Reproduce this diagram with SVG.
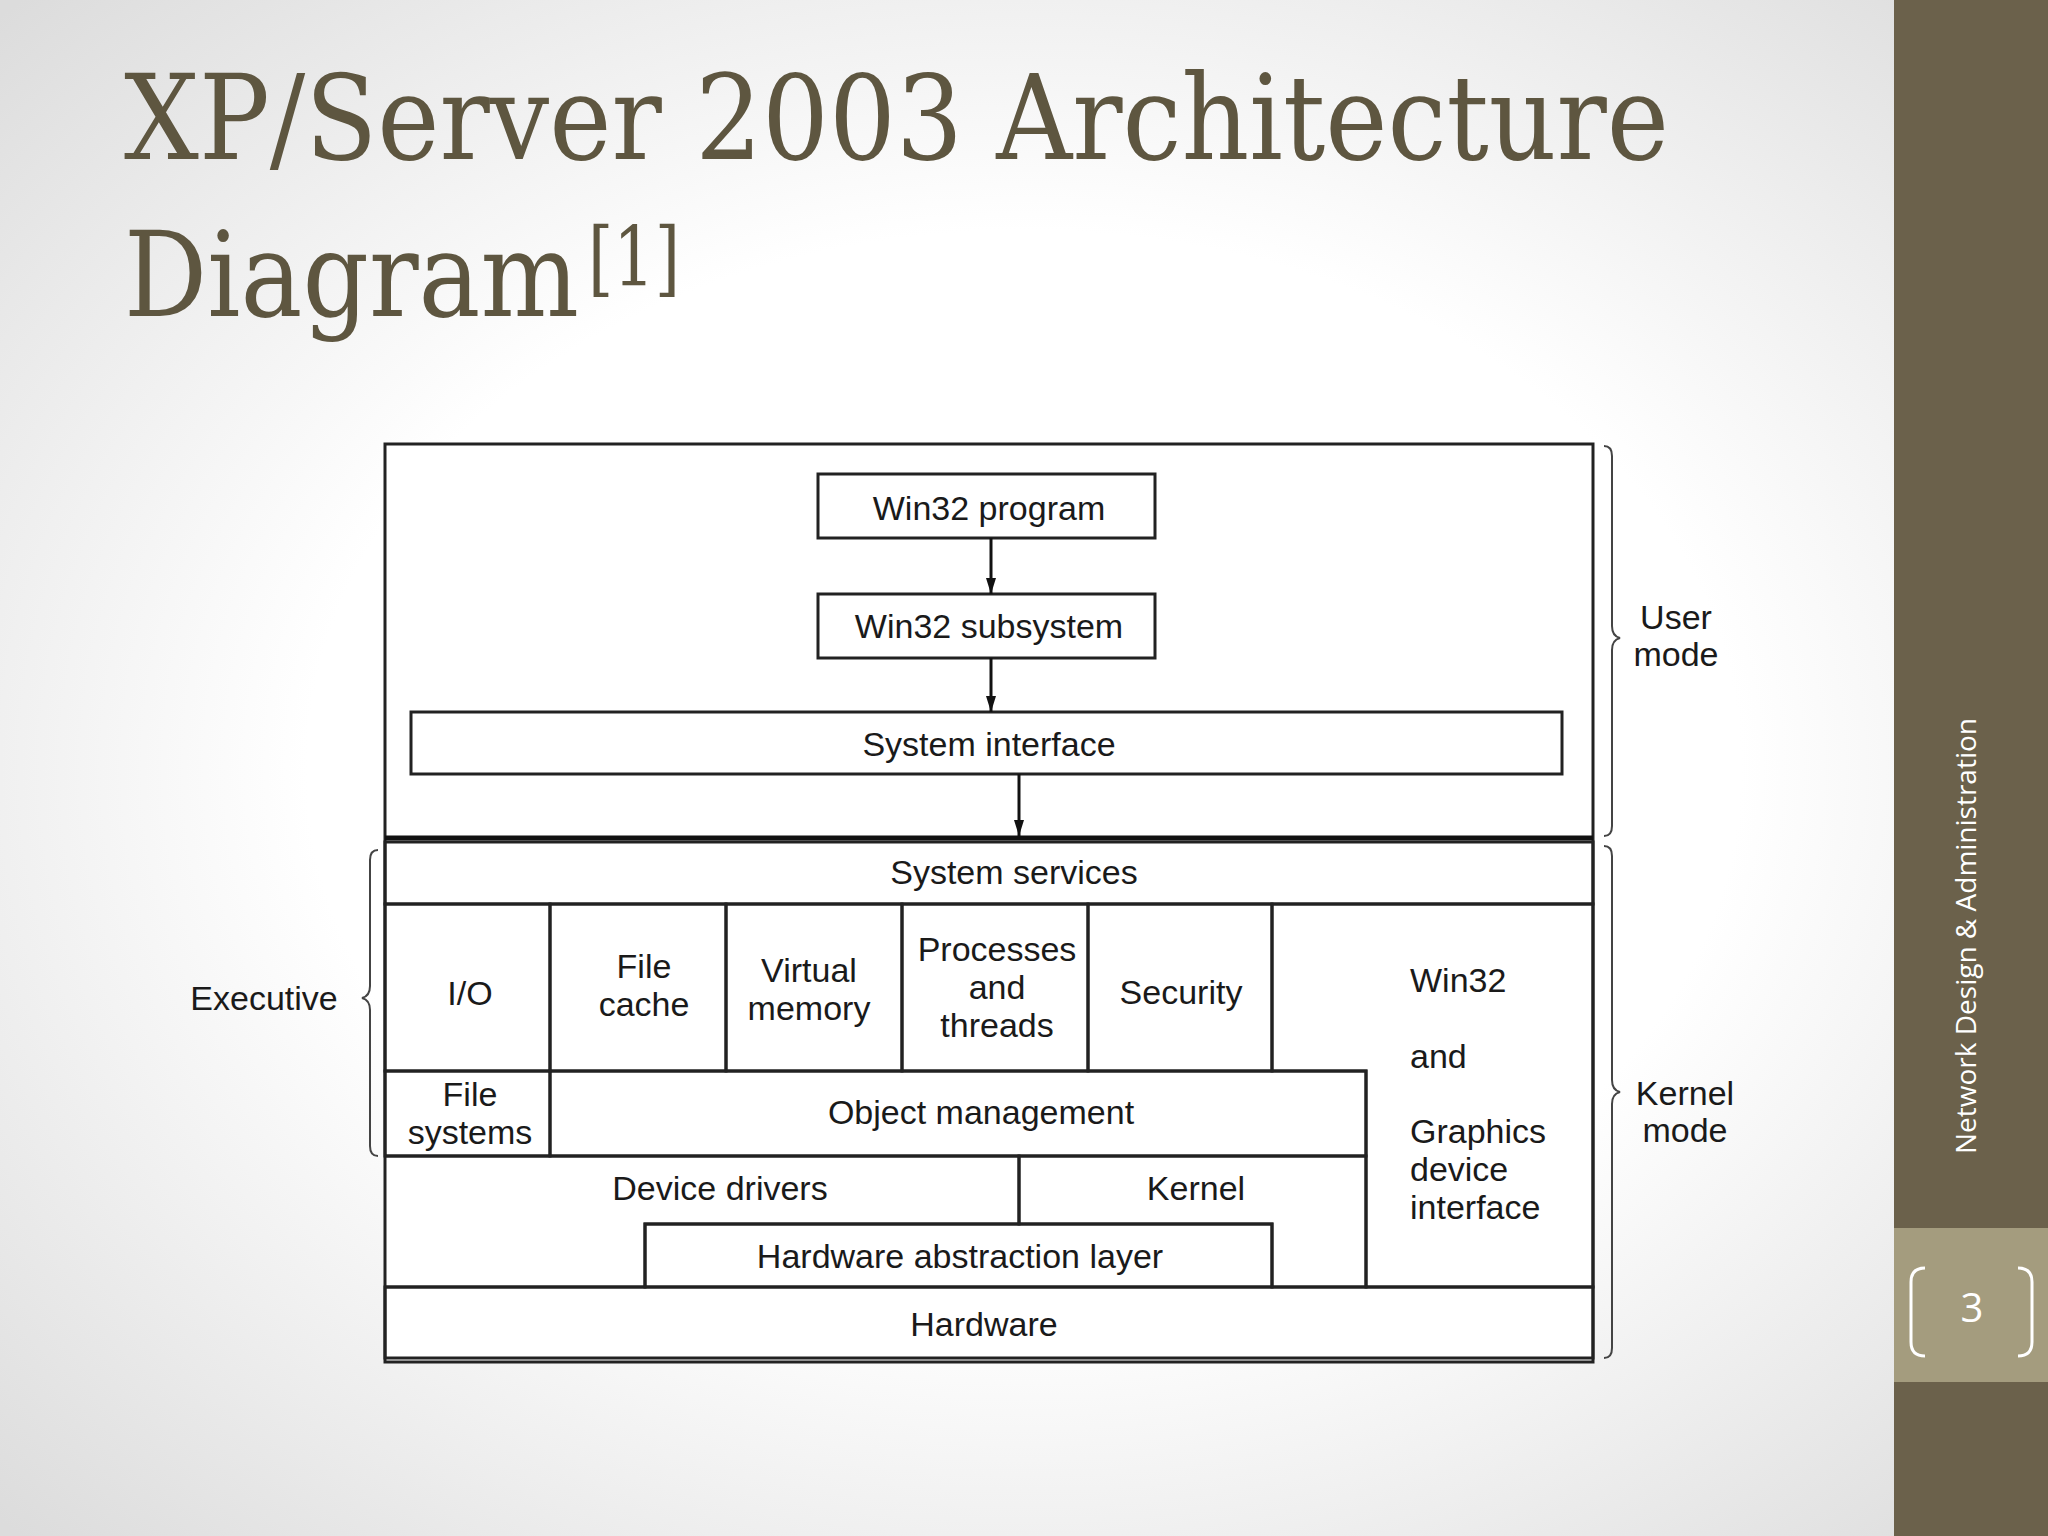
<svg xmlns="http://www.w3.org/2000/svg" width="2048" height="1536" viewBox="0 0 2048 1536">
<defs>
<radialGradient id="bg" cx="0.5" cy="0.5" r="0.7"><stop offset="0.5" stop-color="#ffffff"/><stop offset="1" stop-color="#dcdcdc"/></radialGradient>
<marker id="ah" markerWidth="16" markerHeight="10" refX="16" refY="5" orient="auto" markerUnits="userSpaceOnUse" viewBox="0 0 16 10"><path d="M0,0 L16,5 L0,10 Z" fill="#111"/></marker>
<style>
.b{fill:none;stroke:#222;stroke-width:3}
.w{fill:#fff;stroke:#222;stroke-width:3}
.t{font-family:"Liberation Sans",Arial,sans-serif;font-size:34px;fill:#1a1a1a;text-anchor:middle}
.l{text-anchor:start}
.br{fill:none;stroke:#444;stroke-width:2}
.c{stroke:#111;stroke-width:3;fill:none;marker-end:url(#ah)}
</style>
</defs>
<rect width="2048" height="1536" fill="url(#bg)"/>
<rect x="1894" y="0" width="154" height="1536" fill="#6b614b"/>
<rect x="1894" y="1228" width="154" height="154" fill="#a49c7e"/>
<text x="124" y="159" font-family="'DejaVu Serif',serif" font-size="118" fill="#5e5640" textLength="1545" lengthAdjust="spacingAndGlyphs">XP/Server 2003 Architecture</text>
<text x="124" y="316" font-family="'DejaVu Serif',serif" font-size="118" fill="#5e5640" textLength="455" lengthAdjust="spacingAndGlyphs">Diagram</text>
<text x="588" y="286" font-family="'DejaVu Serif',serif" font-size="82" fill="#5e5640" textLength="92" lengthAdjust="spacingAndGlyphs">[1]</text>
<text transform="translate(1976,936) rotate(-90)" font-family="'Open Sans',sans-serif" font-size="28" fill="#fff" text-anchor="middle">Network Design &amp; Administration</text>
<path d="M1925,1268 q-14,0 -14,14 v60 q0,14 14,14 M2018,1268 q14,0 14,14 v60 q0,14 -14,14" fill="none" stroke="#fff" stroke-width="3"/>
<text x="1972" y="1322" font-family="'Open Sans',sans-serif" font-size="40" fill="#fff" text-anchor="middle">3</text>

<rect x="385" y="444" width="1208" height="918" fill="#fff"/>
<g id="frame">
<rect class="b" x="385" y="444" width="1208" height="918"/>
<line x1="385" y1="838" x2="1593" y2="838" stroke="#111" stroke-width="5"/>
</g>
<g id="win32program"><rect class="w" x="818" y="474" width="337" height="64"/><text class="t" x="989" y="520">Win32 program</text></g>
<g id="win32subsystem"><rect class="w" x="818" y="594" width="337" height="64"/><text class="t" x="989" y="638">Win32 subsystem</text></g>
<g id="sysinterface"><rect class="w" x="411" y="712" width="1151" height="62"/><text class="t" x="989" y="756">System interface</text></g>
<g id="sysservices"><rect class="b" x="385" y="842" width="1208" height="62"/><text class="t" x="1014" y="884">System services</text></g>
<g id="io"><rect class="b" x="385" y="904" width="165" height="167"/><text class="t" x="470" y="1005">I/O</text></g>
<g id="filecache"><rect class="b" x="550" y="904" width="176" height="167"/><text class="t" x="644" y="978">File</text><text class="t" x="644" y="1016">cache</text></g>
<g id="vmem"><rect class="b" x="726" y="904" width="176" height="167"/><text class="t" x="809" y="982">Virtual</text><text class="t" x="809" y="1020">memory</text></g>
<g id="procs"><rect class="b" x="902" y="904" width="186" height="167"/><text class="t" x="997" y="961">Processes</text><text class="t" x="997" y="999">and</text><text class="t" x="997" y="1037">threads</text></g>
<g id="security"><rect class="b" x="1088" y="904" width="184" height="167"/><text class="t" x="1181" y="1004">Security</text></g>
<g id="win32gdi"><path class="b" d="M1272,904 H1593 V1287 H1366 V1071 H1272 Z"/>
<text class="t l" x="1410" y="992">Win32</text><text class="t l" x="1410" y="1068">and</text><text class="t l" x="1410" y="1143">Graphics</text><text class="t l" x="1410" y="1181">device</text><text class="t l" x="1410" y="1219">interface</text></g>
<g id="filesystems"><rect class="b" x="385" y="1071" width="165" height="85"/><text class="t" x="470" y="1106">File</text><text class="t" x="470" y="1144">systems</text></g>
<g id="objmgmt"><rect class="b" x="550" y="1071" width="816" height="85"/><text class="t" x="981" y="1124">Object management</text></g>
<g id="devdrivers"><path class="b" d="M385,1156 H1019 V1224 H645 V1287 H385"/><text class="t" x="720" y="1200">Device drivers</text></g>
<g id="kernel"><path class="b" d="M1019,1156 H1366 V1287 H1272 V1224 H1019 Z"/><text class="t" x="1196" y="1200">Kernel</text></g>
<g id="hal"><rect class="b" x="645" y="1224" width="627" height="63"/><text class="t" x="960" y="1268">Hardware abstraction layer</text></g>
<g id="hardware"><rect class="b" x="385" y="1287" width="1208" height="71"/><text class="t" x="984" y="1336">Hardware</text></g>
<g id="connectors">
<line class="c" x1="991" y1="538" x2="991" y2="594"/>
<line class="c" x1="991" y1="658" x2="991" y2="712"/>
<line class="c" x1="1019" y1="774" x2="1019" y2="836"/>
</g>
<g id="braces">
<path class="br" d="M1604,446 q8,0 8,10 V626 q0,10 8,12 q-8,2 -8,12 V826 q0,10 -8,10"/>
<path class="br" d="M1604,846 q8,0 8,10 V1080 q0,10 8,12 q-8,2 -8,12 V1348 q0,10 -8,10"/>
<path class="br" d="M378,850 q-8,0 -8,10 V986 q0,10 -8,12 q8,2 8,12 V1146 q0,10 8,10"/>
<text class="t" x="1676" y="629">User</text><text class="t" x="1676" y="666">mode</text>
<text class="t" x="1685" y="1105">Kernel</text><text class="t" x="1685" y="1142">mode</text>
<text class="t" x="264" y="1010">Executive</text>
</g>
</svg>
